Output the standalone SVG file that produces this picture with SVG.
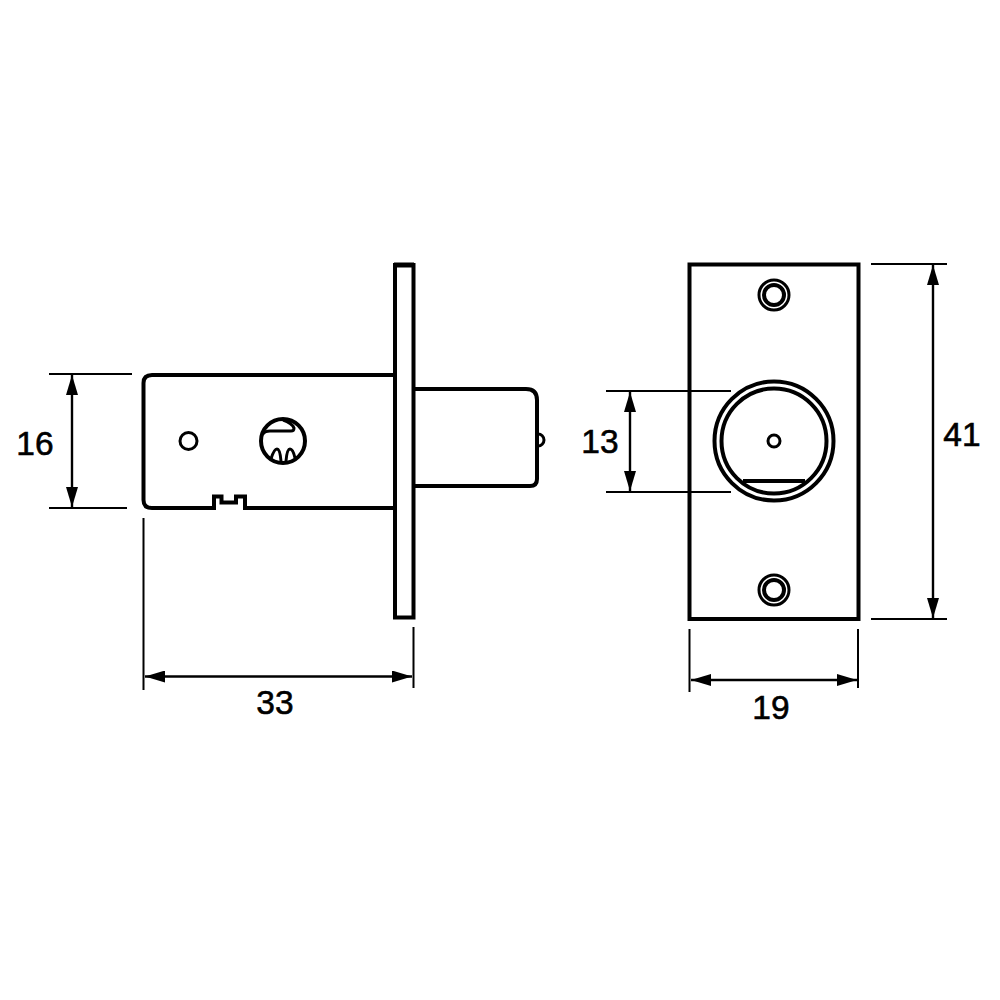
<svg xmlns="http://www.w3.org/2000/svg" width="1000" height="1000" viewBox="0 0 1000 1000">
<style>
.o{fill:none;stroke:#000;stroke-width:4;stroke-linejoin:miter}
.t{fill:none;stroke:#000;stroke-width:3}
.d{fill:none;stroke:#000;stroke-width:2}
.a{fill:none;stroke:#000;stroke-width:2.400;marker-start:url(#h);marker-end:url(#h)}
text{font-family:"Liberation Sans",Arial,sans-serif;font-size:33.500px;fill:#000;stroke:#000;stroke-width:0.600;text-anchor:middle}
</style>
<defs>
<marker id="h" viewBox="0 0 20 12" refX="20" refY="6" markerWidth="20" markerHeight="12" markerUnits="userSpaceOnUse" orient="auto-start-reverse"><path d="M0 0L20 6L0 12z" fill="#000"/></marker>
</defs>
<rect width="1000" height="1000" fill="#fff"/>
<g id="side-body">
<path class="o" d="M394 375H152Q143.500 375 143.500 383V500Q143.500 508 152 508H214V496.500H221.500V502.500H236V496.500H245V508H394"/>
<circle class="t" cx="188.500" cy="441" r="8.500"/>
</g>
<g id="side-keyhole">
<circle class="o" cx="283" cy="441" r="22"/>
<path class="t" d="M263 434Q265 431 270 431H291Q294 431 294 428Q292 423 283 420"/>
<path class="t" d="M271 459Q274 449 277 449Q280 449 281 461M286 461Q287 449 290 449Q293 449 295 458"/>
</g>
<g id="side-plate">
<rect class="o" x="395" y="265" width="18.500" height="352.500"/>
<path class="o" d="M414 265H394" style="stroke-width:5"/>
</g>
<g id="side-bolt">
<path class="o" d="M414 389H526Q537 389 537 400V479Q537 486 530 486H414"/>
<path class="t" d="M538 434A6 6 0 0 1 538 446"/>
</g>
<g id="front-plate">
<rect class="o" x="689.500" y="264.500" width="169" height="354.500"/>
</g>
<g id="front-screw-top">
<circle class="t" cx="774" cy="295" r="15"/>
<circle class="o" cx="774" cy="295" r="10"/>
</g>
<g id="front-screw-bottom">
<circle class="t" cx="774" cy="590" r="15"/>
<circle class="o" cx="774" cy="590" r="10"/>
</g>
<g id="front-cylinder">
<circle class="o" cx="774" cy="441" r="59.500"/>
<circle class="o" cx="774" cy="441" r="52.500"/>
<path class="o" d="M743 481H805"/>
<circle class="t" cx="774" cy="441" r="6"/>
</g>
<g id="connectors">
<path class="d" d="M49 374H132M49 508H127"/>
<path class="a" d="M72 375V507"/>
<path class="d" d="M606 391H731M606 492H731"/>
<path class="a" d="M630 392V491"/>
<path class="d" d="M871 264H947M871 619H947"/>
<path class="a" d="M933 265V618"/>
<path class="d" d="M143.500 518V690M413.500 627V688"/>
<path class="a" d="M145 676.500H412"/>
<path class="d" d="M689.500 629V692M858 629V688"/>
<path class="a" d="M691 680H857"/>
</g>
<g id="labels">
<text x="35" y="455">16</text>
<text x="600" y="453">13</text>
<text x="962" y="446">41</text>
<text x="275" y="714">33</text>
<text x="771" y="719">19</text>
</g>
</svg>
